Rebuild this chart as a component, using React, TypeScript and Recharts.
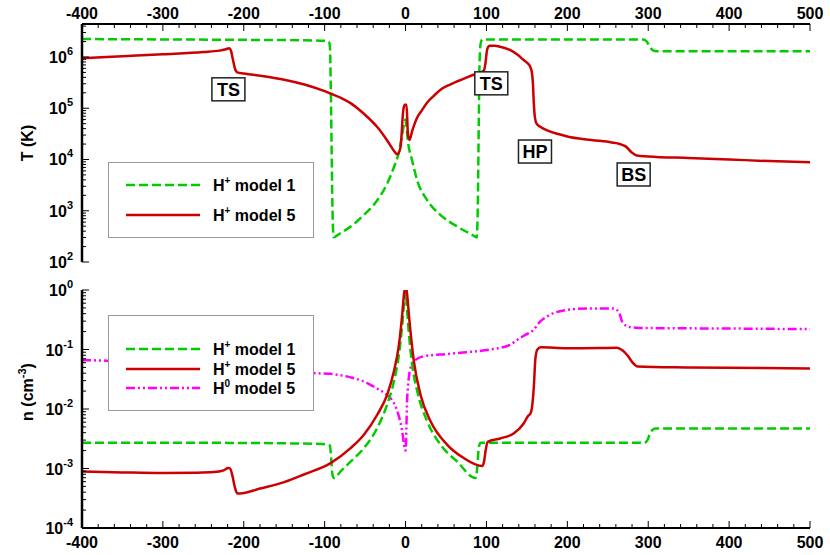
import React from "react";
import { LineChart, Line, XAxis, YAxis, ReferenceDot, Legend } from "recharts";

// [x (AU), value] pairs
const tempModel1: [number, number][] = [
  [-400, 2.24e6], [-300, 2.2e6], [-200, 2.16e6], [-130, 2.12e6], [-100, 2.07e6], [-95, 2.0e6],
  [-93.5, 1.6e6], [-92.5, 3e5], [-91.5, 2e4], [-90.5, 1.5e3], [-89, 3.05e2], [-80, 3.7e2],
  [-68, 4.9e2], [-51.5, 8.3e2], [-35, 1.6e3], [-22.7, 3.4e3], [-14.4, 7.1e3], [-8.2, 1.4e4],
  [-4.1, 3.1e4], [-1.2, 5.5e4], [0, 6e4], [1, 4.5e4], [2.9, 2.3e4], [8.2, 9.5e3], [14.4, 3.9e3],
  [26.8, 1.6e3], [43.3, 8.2e2], [63.9, 4.9e2], [86.5, 3.1e2], [88, 3.0e2], [89.5, 2e3],
  [90.5, 5e4], [91.5, 8e5], [93, 1.9e6], [95, 2.2e6], [200, 2.2e6], [293, 2.2e6], [297, 2.1e6],
  [300, 1.8e6], [303, 1.5e6], [306, 1.35e6], [310, 1.3e6], [500, 1.3e6],
];

const tempModel5: [number, number][] = [
  [-400, 9.4e5], [-350, 1.03e6], [-300, 1.13e6], [-250, 1.25e6], [-230, 1.33e6], [-222, 1.42e6],
  [-218, 1.48e6], [-216, 1.35e6], [-213.5, 9e5], [-211, 6e5], [-208, 5.0e5], [-200, 4.75e5],
  [-175, 4.2e5], [-150, 3.6e5], [-125, 2.9e5], [-100, 2.15e5], [-90, 1.86e5], [-80, 1.6e5],
  [-68, 1.26e5], [-51.5, 7.8e4], [-35, 4.3e4], [-22.7, 2.35e4], [-14.4, 1.48e4], [-10.3, 1.26e4],
  [-6.2, 1.74e4], [-2.9, 8.9e4], [-1.2, 1.17e5], [1.2, 1.17e5], [2.9, 3.2e4], [4.9, 2.4e4],
  [8.2, 3.6e4], [14.4, 6.6e4], [20, 9e4], [26.8, 1.29e5], [35, 1.75e5], [43.3, 2.3e5],
  [55, 2.9e5], [65, 3.4e5], [76, 4.0e5], [86, 4.6e5], [94, 5.1e5], [97, 5.5e5], [99, 8e5],
  [100.5, 1.3e6], [102, 1.55e6], [104, 1.65e6], [110, 1.65e6], [117, 1.58e6], [129, 1.37e6],
  [139, 1.09e6], [146, 8.7e5], [150, 7.8e5], [154, 6.5e5], [156, 5.2e5], [157.5, 3e5],
  [158.5, 1.3e5], [160, 6.5e4], [162, 5.0e4], [167, 4.3e4], [175, 3.7e4], [190, 3.1e4],
  [200, 2.8e4], [230, 2.4e4], [255, 2.15e4], [265, 2.0e4], [272, 1.8e4], [280, 1.35e4],
  [286, 1.2e4], [300, 1.15e4], [350, 1.07e4], [400, 1.0e4], [450, 9.3e3], [500, 8.8e3],
];

const densModel1: [number, number][] = [
  [-400, 2.7e-3], [-250, 2.7e-3], [-150, 2.65e-3], [-110, 2.6e-3], [-95, 2.5e-3], [-93.5, 2.4e-3],
  [-92, 1.5e-3], [-90.5, 8e-4], [-88.6, 6.9e-4], [-80, 9e-4], [-68, 1.3e-3], [-51.5, 2.2e-3],
  [-35, 4.8e-3], [-22.7, 1.2e-2], [-14.4, 2.9e-2], [-8.2, 8.2e-2], [-4.1, 0.26], [-1.2, 0.73],
  [0, 0.95], [1, 0.7], [2.9, 0.3], [8.2, 5.5e-2], [14.4, 2e-2], [26.8, 6.2e-3], [43.3, 2.5e-3],
  [63.9, 1.3e-3], [86.5, 6.9e-4], [88.5, 1.0e-3], [90.5, 2.2e-3], [92.7, 2.7e-3], [150, 2.7e-3],
  [250, 2.7e-3], [295, 2.7e-3], [299, 3.0e-3], [302, 3.8e-3], [305, 4.4e-3], [309, 4.7e-3],
  [500, 4.7e-3],
];

const densModel5: [number, number][] = [
  [-400, 8.9e-4], [-350, 8.6e-4], [-300, 8.4e-4], [-260, 8.5e-4], [-237, 8.7e-4], [-225, 9.3e-4],
  [-219, 1.02e-3], [-217, 1.0e-3], [-214, 7.5e-4], [-211, 4.8e-4], [-208, 3.8e-4], [-205, 3.8e-4],
  [-180, 4.6e-4], [-150, 5.9e-4], [-125, 8.0e-4], [-92.7, 1.23e-3], [-68, 2.2e-3], [-51.5, 3.7e-3],
  [-35, 8e-3], [-22.7, 1.74e-2], [-14.4, 4.3e-2], [-8.2, 0.12], [-4.1, 0.39], [-2, 0.83],
  [0, 1.2], [2, 0.83], [4.1, 0.39], [10.3, 6.3e-2], [18.5, 1.74e-2], [30.9, 6.2e-3],
  [51.5, 2.5e-3], [72, 1.5e-3], [94.7, 1.1e-3], [97, 1.3e-3], [99, 2.0e-3], [101.5, 2.8e-3],
  [117, 3.2e-3], [134, 3.9e-3], [146, 5.7e-3], [151, 7.5e-3], [154.5, 8.5e-3], [156, 1e-2],
  [158.7, 2.5e-2], [160.5, 7e-2], [163, 0.1], [167, 0.109], [200, 0.105], [240, 0.106],
  [261, 0.107], [268, 0.097], [274, 0.081], [280, 0.062], [287, 0.052], [350, 0.05], [500, 0.048],
];

const densNeutral5: [number, number][] = [
  [-400, 0.066], [-370, 0.065], [-330, 0.06], [-280, 0.054], [-230, 0.049], [-180, 0.045],
  [-130, 0.042], [-111, 0.04], [-92.7, 0.039], [-68, 0.034], [-51.5, 0.029], [-35, 0.022],
  [-22.7, 0.017], [-14.4, 0.0126], [-8.2, 7.5e-3], [-4.1, 4.2e-3], [-1.2, 2.2e-3], [0, 2.0e-3],
  [1.2, 6e-3], [2, 0.015], [6.2, 0.049], [12.4, 0.067], [22.7, 0.077], [51.5, 0.084],
  [75, 0.09], [105, 0.1], [129, 0.12], [141, 0.154], [149.4, 0.18], [157.6, 0.21], [166, 0.29],
  [178, 0.38], [199, 0.46], [224, 0.49], [257, 0.49], [263.5, 0.43], [268, 0.29], [276, 0.24],
  [290, 0.23], [400, 0.225], [500, 0.22],
];

const annotations = [
  { text: "TS", x: -219, y: 2.34e5 },
  { text: "TS", x: 106, y: 3.06e5 },
  { text: "HP", x: 160, y: 1.43e4 },
  { text: "BS", x: 282, y: 5.1e3 },
];

const xMajorTicks = [-400, -300, -200, -100, 0, 100, 200, 300, 400, 500];
const tempMajorTicks = [1e2, 1e3, 1e4, 1e5, 1e6];
const densMajorTicks = [1e-4, 1e-3, 1e-2, 1e-1, 1e0];

const GREEN = "#00cc00";
const RED = "#cc0000";
const MAGENTA = "#ff00ff";
const FONT = "'Liberation Sans', Arial, Helvetica, sans-serif";
const GREEN_DASH = "9 4";
const MAGENTA_DASH = "9 3 2 3 2 3";

const toPoints = (pairs: [number, number][]) => pairs.map(([x, y]) => ({ x, y }));

// minor ticks every 20 along x, 2..9 per decade along y
const xTicks: number[] = [];
for (let v = xMajorTicks[0]; v <= xMajorTicks[xMajorTicks.length - 1]; v += 20) xTicks.push(v);

const logTicks = (majors: number[], max: number) => {
  const out: number[] = [];
  majors.forEach((m) => {
    for (let k = 1; k <= 9; k++) {
      const v = m * k;
      if (v <= max * 1.0001) out.push(v);
    }
  });
  return out;
};

const TEMP_MAX = 4.4e6;
const tempTicks = logTicks(tempMajorTicks, TEMP_MAX);
const densTicks = logTicks(densMajorTicks, 1);

const isDecade = (v: number) => {
  const e = Math.log10(v);
  return Math.abs(e - Math.round(e)) < 1e-6;
};

const YTick = (props: any) => {
  const { x, y, payload, side } = props;
  const v = payload.value;
  const major = isDecade(v);
  const len = major ? 7 : 4;
  const dir = side === "left" ? 1 : -1;
  return (
    <g>
      <line x1={x} y1={y} x2={x + dir * len} y2={y} stroke="#000" strokeWidth={1} />
      {side === "left" && major && (
        <text x={x - 9} y={y + 6} textAnchor="end" fontFamily={FONT} fontWeight="bold" fontSize={16} fill="#000">
          10
          <tspan dy={-8} fontSize={11}>{Math.round(Math.log10(v))}</tspan>
        </text>
      )}
    </g>
  );
};

const XTick = (props: any) => {
  const { x, y, payload, side, showLabel } = props;
  const v = payload.value;
  const major = xMajorTicks.includes(v);
  const len = major ? 7 : 4;
  const dir = side === "top" ? 1 : -1;
  return (
    <g>
      <line x1={x} y1={y} x2={x} y2={y + dir * len} stroke="#000" strokeWidth={1} />
      {showLabel && major && (
        <text
          x={x}
          y={side === "top" ? y - 5 : y + 20}
          textAnchor="middle"
          fontFamily={FONT}
          fontWeight="bold"
          fontSize={16}
          fill="#000"
        >
          {v}
        </text>
      )}
    </g>
  );
};

const AnnotationBox = (props: any) => {
  const { cx, cy, text } = props;
  return (
    <g>
      <rect x={cx - 16.5} y={cy - 11.5} width={33} height={23} fill="#fff" stroke="#222" strokeWidth={1.5} />
      <text x={cx} y={cy + 6.5} textAnchor="middle" fontFamily={FONT} fontWeight="bold" fontSize={18} fill="#000">
        {text}
      </text>
    </g>
  );
};

type LegendItem = { sym: string; sup: string; rest: string; color: string; dash?: string };

const tempLegend: LegendItem[] = [
  { sym: "H", sup: "+", rest: " model 1", color: GREEN, dash: GREEN_DASH },
  { sym: "H", sup: "+", rest: " model 5", color: RED },
];
const densLegend: LegendItem[] = [
  { sym: "H", sup: "+", rest: " model 1", color: GREEN, dash: GREEN_DASH },
  { sym: "H", sup: "+", rest: " model 5", color: RED },
  { sym: "H", sup: "0", rest: " model 5", color: MAGENTA, dash: MAGENTA_DASH },
];

const LegendBox = ({ items, height, rows }: { items: LegendItem[]; height: number; rows: number[] }) => (
  <div style={{ width: 206, height, border: "1px solid #999", background: "#fff", boxSizing: "border-box" }}>
    <svg width={204} height={height - 2} style={{ display: "block" }}>
      {items.map((it, i) => (
        <g key={i}>
          <line x1={17} x2={91} y1={rows[i]} y2={rows[i]} stroke={it.color} strokeWidth={2.5} strokeDasharray={it.dash} />
          <text x={104} y={rows[i] + 6} fontFamily={FONT} fontWeight="bold" fontSize={16} fill="#000">
            {it.sym}
            <tspan dy={-7} fontSize={10}>{it.sup}</tspan>
            <tspan dy={7}>{it.rest}</tspan>
          </text>
        </g>
      ))}
    </svg>
  </div>
);

const axisLabel = (lines: React.ReactNode, dy: number) => (p: any) => {
  const vb = p.viewBox;
  const cy = vb.y + vb.height / 2 + dy;
  return (
    <text
      x={33}
      y={cy}
      transform={`rotate(-90, 33, ${cy})`}
      textAnchor="middle"
      fontFamily={FONT}
      fontWeight="bold"
      fontSize={16}
      fill="#000"
    >
      {lines}
    </text>
  );
};

const blackAxis = { stroke: "#000", strokeWidth: 2 };
const grayAxis = { stroke: "#555", strokeWidth: 1 };

const App = () => {
  return (
    <div style={{ position: "absolute", left: 0, top: 0, width: 830, height: 555, background: "#fff" }}>
      <div style={{ position: "absolute", left: 0, top: 0 }}>
        <LineChart width={830} height={270} margin={{ top: 0, right: 20, bottom: 8, left: 0 }}>
          <XAxis
            xAxisId="t"
            type="number"
            dataKey="x"
            orientation="top"
            domain={[-400, 500]}
            allowDataOverflow
            ticks={xTicks}
            interval={0}
            height={24}
            tickSize={0}
            tickMargin={0}
            tickLine={false}
            axisLine={blackAxis}
            tick={<XTick side="top" showLabel />}
          />
          <XAxis
            xAxisId="b"
            type="number"
            dataKey="x"
            orientation="bottom"
            domain={[-400, 500]}
            allowDataOverflow
            ticks={xTicks}
            interval={0}
            height={0}
            tickSize={0}
            tickMargin={0}
            tickLine={false}
            axisLine={blackAxis}
            tick={<XTick side="bottom" />}
          />
          <YAxis
            yAxisId="l"
            scale="log"
            domain={[100, TEMP_MAX]}
            allowDataOverflow
            ticks={tempTicks}
            interval={0}
            width={82}
            tickSize={0}
            tickMargin={0}
            tickLine={false}
            axisLine={{ stroke: "#000", strokeWidth: 2.5 }}
            tick={<YTick side="left" />}
            label={{ content: axisLabel("T (K)", 0) }}
          />
          <YAxis
            yAxisId="r"
            orientation="right"
            scale="log"
            domain={[100, TEMP_MAX]}
            allowDataOverflow
            ticks={tempTicks}
            interval={0}
            width={0}
            tickSize={0}
            tickMargin={0}
            tickLine={false}
            axisLine={grayAxis}
            tick={<YTick side="right" />}
          />
          <Legend
            layout="vertical"
            align="center"
            verticalAlign="middle"
            wrapperStyle={{ left: 108, top: 162, width: 206, height: 76 }}
            content={() => <LegendBox items={tempLegend} height={76} rows={[22, 52]} />}
          />
          <Line
            xAxisId="t"
            yAxisId="l"
            data={toPoints(tempModel1)}
            dataKey="y"
            name="H+ model 1"
            type="monotone"
            stroke={GREEN}
            strokeWidth={2.5}
            strokeDasharray={GREEN_DASH}
            dot={false}
            activeDot={false}
            isAnimationActive={false}
          />
          <Line
            xAxisId="t"
            yAxisId="l"
            data={toPoints(tempModel5)}
            dataKey="y"
            name="H+ model 5"
            type="monotone"
            stroke={RED}
            strokeWidth={2.5}
            dot={false}
            activeDot={false}
            isAnimationActive={false}
          />
          {annotations.map((a, i) => (
            <ReferenceDot
              key={i}
              xAxisId="t"
              yAxisId="l"
              x={a.x}
              y={a.y}
              r={0}
              ifOverflow="visible"
              shape={(p: any) => <AnnotationBox {...p} text={a.text} />}
            />
          ))}
        </LineChart>
      </div>
      <div style={{ position: "absolute", left: 0, top: 270 }}>
        <LineChart width={830} height={285} margin={{ top: 20, right: 20, bottom: 0, left: 0 }}>
          <XAxis
            xAxisId="b"
            type="number"
            dataKey="x"
            orientation="bottom"
            domain={[-400, 500]}
            allowDataOverflow
            ticks={xTicks}
            interval={0}
            height={27}
            tickSize={0}
            tickMargin={0}
            tickLine={false}
            axisLine={blackAxis}
            tick={<XTick side="bottom" showLabel />}
          />
          <XAxis
            xAxisId="t"
            type="number"
            dataKey="x"
            orientation="top"
            domain={[-400, 500]}
            allowDataOverflow
            ticks={xTicks}
            interval={0}
            height={0}
            tickSize={0}
            tickMargin={0}
            tickLine={false}
            axisLine={blackAxis}
            tick={<XTick side="top" />}
          />
          <YAxis
            yAxisId="l"
            scale="log"
            domain={[1e-4, 1]}
            allowDataOverflow
            ticks={densTicks}
            interval={0}
            width={82}
            tickSize={0}
            tickMargin={0}
            tickLine={false}
            axisLine={{ stroke: "#000", strokeWidth: 2.5 }}
            tick={<YTick side="left" />}
            label={{
              content: axisLabel(
                <>
                  n (cm<tspan dy={-7} fontSize={11}>-3</tspan>
                  <tspan dy={7}>)</tspan>
                </>,
                -17
              ),
            }}
          />
          <YAxis
            yAxisId="r"
            orientation="right"
            scale="log"
            domain={[1e-4, 1]}
            allowDataOverflow
            ticks={densTicks}
            interval={0}
            width={0}
            tickSize={0}
            tickMargin={0}
            tickLine={false}
            axisLine={grayAxis}
            tick={<YTick side="right" />}
          />
          <Legend
            layout="vertical"
            align="center"
            verticalAlign="middle"
            wrapperStyle={{ left: 108, top: 45, width: 206, height: 96 }}
            content={() => <LegendBox items={densLegend} height={96} rows={[33, 53, 72]} />}
          />
          <Line
            xAxisId="b"
            yAxisId="l"
            data={toPoints(densNeutral5)}
            dataKey="y"
            name="H0 model 5"
            type="monotone"
            stroke={MAGENTA}
            strokeWidth={2.5}
            strokeDasharray={MAGENTA_DASH}
            dot={false}
            activeDot={false}
            isAnimationActive={false}
          />
          <Line
            xAxisId="b"
            yAxisId="l"
            data={toPoints(densModel1)}
            dataKey="y"
            name="H+ model 1"
            type="monotone"
            stroke={GREEN}
            strokeWidth={2.5}
            strokeDasharray={GREEN_DASH}
            dot={false}
            activeDot={false}
            isAnimationActive={false}
          />
          <Line
            xAxisId="b"
            yAxisId="l"
            data={toPoints(densModel5)}
            dataKey="y"
            name="H+ model 5"
            type="monotone"
            stroke={RED}
            strokeWidth={2.5}
            dot={false}
            activeDot={false}
            isAnimationActive={false}
          />
        </LineChart>
      </div>
    </div>
  );
};

export default App;
